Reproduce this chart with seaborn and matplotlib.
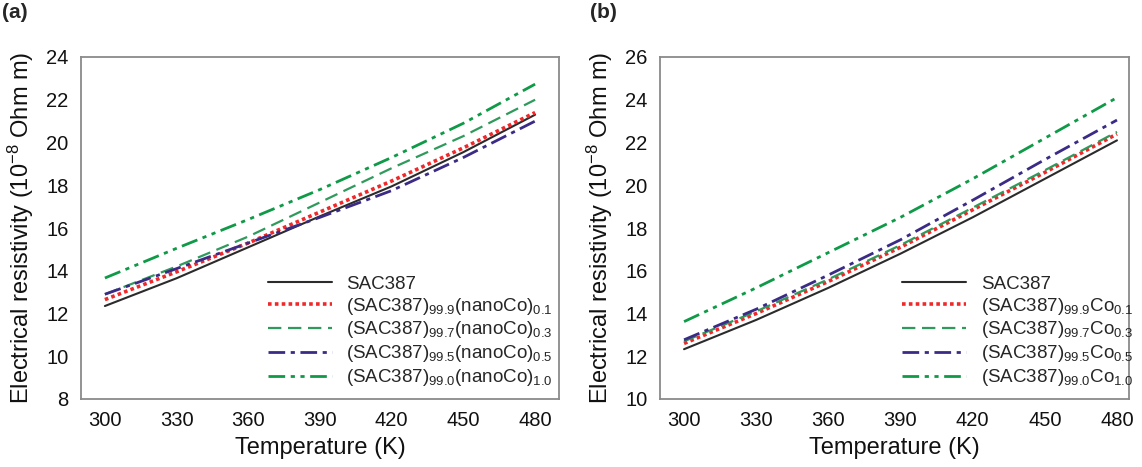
import matplotlib
matplotlib.use("Agg")
import matplotlib.pyplot as plt
import seaborn as sns
import pandas as pd

temps = [300, 330, 360, 390, 420, 450, 480]

# Panel (a): nano-Co additions
a_sac387 = [12.35, 13.65, 15.10, 16.55, 17.95, 19.55, 21.30]
a_nano01 = [12.65, 13.95, 15.30, 16.75, 18.20, 19.75, 21.40]
a_nano03 = [12.90, 14.20, 15.60, 17.20, 18.80, 20.30, 22.00]
a_nano05 = [12.90, 14.10, 15.30, 16.50, 17.75, 19.30, 21.00]
a_nano10 = [13.66, 15.05, 16.40, 17.80, 19.30, 20.90, 22.73]

# Panel (b): Co additions
b_sac387 = [12.33, 13.70, 15.20, 16.80, 18.50, 20.30, 22.10]
b_co01 = [12.60, 14.00, 15.50, 17.10, 18.85, 20.60, 22.40]
b_co03 = [12.70, 14.10, 15.60, 17.20, 18.95, 20.70, 22.50]
b_co05 = [12.77, 14.20, 15.80, 17.45, 19.30, 21.20, 23.05]
b_co10 = [13.62, 15.20, 16.85, 18.50, 20.30, 22.20, 24.10]

labels_a = ["SAC387",
            r"(SAC387)$_{\mathregular{99.9}}$(nanoCo)$_{\mathregular{0.1}}$",
            r"(SAC387)$_{\mathregular{99.7}}$(nanoCo)$_{\mathregular{0.3}}$",
            r"(SAC387)$_{\mathregular{99.5}}$(nanoCo)$_{\mathregular{0.5}}$",
            r"(SAC387)$_{\mathregular{99.0}}$(nanoCo)$_{\mathregular{1.0}}$"]
labels_b = ["SAC387",
            r"(SAC387)$_{\mathregular{99.9}}$Co$_{\mathregular{0.1}}$",
            r"(SAC387)$_{\mathregular{99.7}}$Co$_{\mathregular{0.3}}$",
            r"(SAC387)$_{\mathregular{99.5}}$Co$_{\mathregular{0.5}}$",
            r"(SAC387)$_{\mathregular{99.0}}$Co$_{\mathregular{1.0}}$"]

xticks = [300, 330, 360, 390, 420, 450, 480]
yticks_a = [8, 10, 12, 14, 16, 18, 20, 22, 24]
yticks_b = [10, 12, 14, 16, 18, 20, 22, 24, 26]

colors = ["#2b2b2b", "#f0282a", "#2e9a5c", "#3b2b86", "#0f9a48"]
styles = ["-", (0, (1, 0.9)), (0, (6, 3)), (0, (6, 2, 1.5, 2)), (0, (6, 2, 1.5, 2, 1.5, 2))]
widths = [1.5, 2.6, 1.6, 2.0, 2.0]

sns.set_theme(style="white")
plt.rcParams['font.family'] = ['Liberation Sans', 'DejaVu Sans']
plt.rcParams['mathtext.fontset'] = 'custom'
plt.rcParams['mathtext.rm'] = 'Liberation Sans'
plt.rcParams['mathtext.it'] = 'Liberation Sans'

fig = plt.figure(figsize=(11.42, 4.67), dpi=100)
ax_a = fig.add_axes([81/1142, 1-399/467, (559-81)/1142, (399-57)/467])
ax_b = fig.add_axes([660/1142, 1-399/467, (1129-660)/1142, (399-57)/467])

def draw(ax, series, labels, yticks, ylim, xlim, legend_anchor):
    for vals, lab, c, ls, lw in zip(series, labels, colors, styles, widths):
        df = pd.DataFrame({"T": temps, "rho": vals})
        sns.lineplot(data=df, x="T", y="rho", ax=ax, color=c, linestyle=ls,
                     linewidth=lw, label=lab)
    ax.set_xlim(*xlim)
    ax.set_ylim(*ylim)
    ax.set_xticks(xticks)
    ax.set_yticks(yticks)
    ax.tick_params(direction="in", length=4, width=1, color="#808080",
                   labelsize=14.5, pad=9, labelcolor="#111111")
    for sp in ax.spines.values():
        sp.set_color("#8a8a8a")
        sp.set_linewidth(1.3)
    ax.set_xlabel("Temperature (K)", fontsize=17, color="#111111", labelpad=5)
    ax.set_ylabel(r"Electrical resistivity (10$^{\mathregular{-8}}$ Ohm m)",
                  fontsize=17, color="#111111", labelpad=7)
    ax.legend(loc="lower left", bbox_to_anchor=legend_anchor, frameon=False,
              fontsize=13.5, handlelength=3.4, handletextpad=0.8,
              labelspacing=0.15, borderaxespad=0)

draw(ax_a, [a_sac387, a_nano01, a_nano03, a_nano05, a_nano10], labels_a,
     yticks_a, (8, 24), (290, 490), (0.375, 0.01))
draw(ax_b, [b_sac387, b_co01, b_co03, b_co05, b_co10], labels_b,
     yticks_b, (10, 26), (290, 485), (0.50, 0.01))

fig.text(2/1142, 1-13/467, "(a)", fontsize=15, fontweight="bold", va="center", ha="left")
fig.text(590/1142, 1-13/467, "(b)", fontsize=15, fontweight="bold", va="center", ha="left")

fig.savefig("out.png", dpi=100)
